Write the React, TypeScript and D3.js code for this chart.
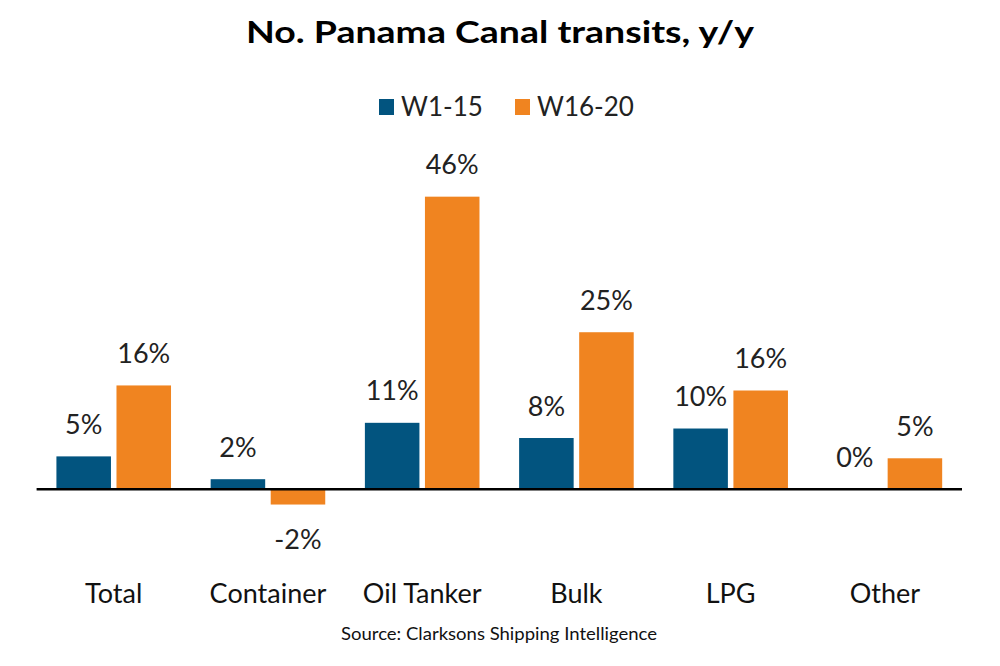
import React from 'react';
import * as d3 from 'd3';

// Categories and series, values in % y/y
const categories = ['Total', 'Container', 'Oil Tanker', 'Bulk', 'LPG', 'Other'];
const seriesNames = ['W1-15', 'W16-20'];
const w1to15 = [5.2, 1.6, 10.5, 8.1, 9.6, 0];
const w16to20 = [16.4, -2.4, 46.2, 24.8, 15.6, 4.9];
const colors = ['#02547f', '#f08420'];

const width = 1000;
const height = 666;
const font = 'Lato, "Open Sans", sans-serif';

export default function App() {
  const seriesValues = [w1to15, w16to20];

  // group positions
  const x0 = d3.scaleBand<string>()
    .domain(categories)
    .range([36.6, 962])
    .paddingInner(0.257)
    .paddingOuter(0.1285);
  // bars inside group
  const x1 = d3.scaleBand<string>()
    .domain(seriesNames)
    .range([0, x0.bandwidth()])
    .paddingInner(0.092);
  const y = d3.scaleLinear().domain([-5, 50]).range([521, 172.6]);

  const label = (v: number) => `${Math.round(v)}%`;

  return (
    <svg width={width} height={height} style={{ position: 'absolute', left: 0, top: 0, background: '#fff' }}>
      {/* Title */}
      <text x={500} y={43} textAnchor="middle" fontFamily={font} fontWeight="bold" fontSize={31}
        textLength={508} lengthAdjust="spacingAndGlyphs" fill="#000">
        No. Panama Canal transits, y/y
      </text>

      {/* Legend */}
      {seriesNames.map((s, i) => {
        const lx = [379, 515][i];
        return (
          <g key={s}>
            <rect x={lx} y={99} width={15} height={16} fill={colors[i]} />
            <text x={lx + 22} y={116} fontFamily={font} fontSize={26} fill="#222">{s}</text>
          </g>
        );
      })}

      {/* Bars */}
      {categories.map((c, ci) => (
        <g key={c} transform={`translate(${x0(c)},0)`}>
          {seriesNames.map((s, si) => {
            const v = seriesValues[si][ci];
            const bx = x1(s) as number;
            const top = y(Math.max(0, v));
            const h = Math.abs(y(v) - y(0));
            const cx = bx + x1.bandwidth() / 2;
            return (
              <g key={s}>
                <rect x={bx} y={top} width={x1.bandwidth()} height={h} fill={colors[si]} />
                <text
                  x={cx}
                  y={v >= 0 ? y(v) - 22.5 : y(v) + 44}
                  textAnchor="middle"
                  fontFamily={font}
                  fontSize={27}
                  fill="#222"
                >
                  {label(v)}
                </text>
              </g>
            );
          })}
          <text
            x={x0.bandwidth() / 2}
            y={603.3}
            textAnchor="middle"
            fontFamily={font}
            fontSize={27}
            fill="#111"
          >
            {c}
          </text>
        </g>
      ))}

      {/* Zero line */}
      <line x1={36.6} x2={962} y1={y(0)} y2={y(0)} stroke="#000" strokeWidth={2.5} />

      {/* Source */}
      <text x={499} y={640} textAnchor="middle" fontFamily={font} fontSize={17}
        textLength={316} lengthAdjust="spacingAndGlyphs" fill="#111">
        Source: Clarksons Shipping Intelligence
      </text>
    </svg>
  );
}
